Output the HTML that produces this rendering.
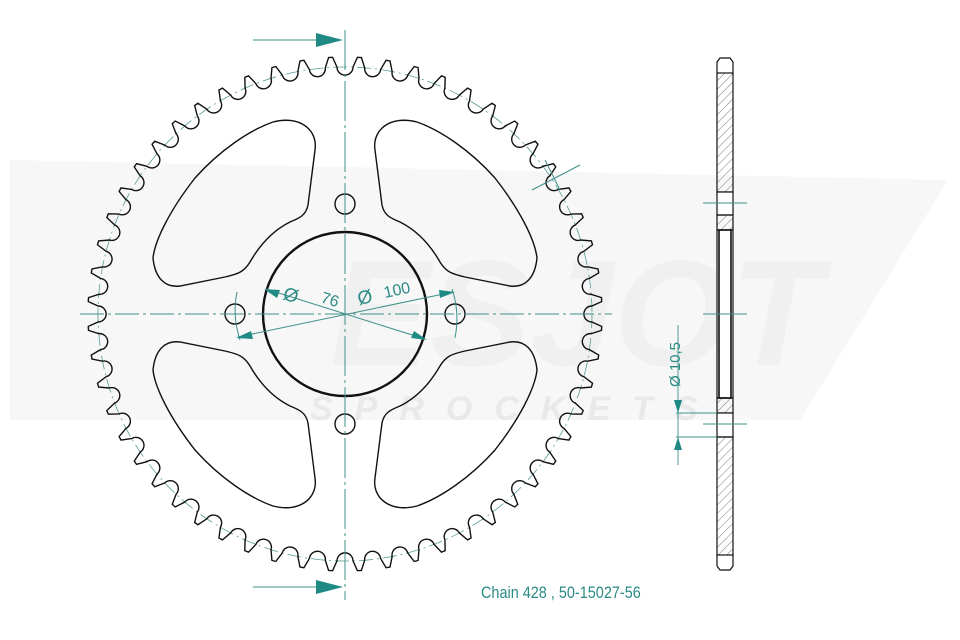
<!DOCTYPE html>
<html><head><meta charset="utf-8"><style>
html,body{margin:0;padding:0;background:#fff;width:960px;height:640px;overflow:hidden}
svg{display:block}
text{font-family:"Liberation Sans",sans-serif}
</style></head><body>
<svg width="960" height="640" viewBox="0 0 960 640" xmlns="http://www.w3.org/2000/svg">
<polygon points="10,160 948,180 800,420 10,420" fill="#f7f7f7"/>
<text x="330" y="365" font-size="150" font-weight="bold" fill="#f0f0f0" font-style="italic">ESJOT</text>
<text x="310" y="420" font-size="34" font-weight="bold" fill="#e9e9e9" font-style="italic" letter-spacing="22">SPROCKETS</text>

<circle cx="345" cy="314" r="247" fill="none" stroke="#5a9c98" stroke-width="0.8" stroke-dasharray="14 4 2 4"/>
<path id="teeth" fill="none" stroke="#111" stroke-width="1.4"/>

<g fill="none" stroke="#111" stroke-width="1.4">
<path id="win" d="M273,122 C300,115 318,130 315,150 L308,205 C306,215 300,218 290,222 C270,232 258,248 250,262 C244,272 238,274 225,277 L180,286 C165,288 155,278 153,258 C155,240 170,210 195,178 C220,150 250,130 273,122 Z"/>
<use href="#win" transform="translate(690,0) scale(-1,1)"/>
<use href="#win" transform="translate(0,628) scale(1,-1)"/>
<use href="#win" transform="translate(690,628) scale(-1,-1)"/>
<circle cx="345" cy="204" r="10"/><circle cx="345" cy="424" r="10"/>
<circle cx="235" cy="314" r="10"/><circle cx="455" cy="314" r="10"/>
<circle cx="345" cy="314" r="82" stroke-width="2.4"/>
</g>

<g stroke="#3f8f8a" stroke-width="1" fill="none">
<line x1="80" y1="314" x2="612" y2="314" stroke-dasharray="24 4 3 4"/>
<line x1="345" y1="30" x2="345" y2="600" stroke-dasharray="40 4 3 4"/>
<line x1="253" y1="40" x2="318" y2="40"/>
<line x1="253" y1="587" x2="318" y2="587"/>
<line x1="266" y1="289" x2="425" y2="339"/>
<line x1="238" y1="337" x2="453" y2="292"/>
<path d="M237,292 Q232,315 240,340"/>
<path d="M452,289 Q460,312 455,338"/>
<line x1="532" y1="190" x2="580" y2="165"/>
<line x1="545" y1="160" x2="560" y2="190"/>
</g>
<g fill="#1f8a84">
<polygon points="343,40 316,33 316,47"/>
<polygon points="343,587 316,580 316,594"/>
<polygon points="264,289 280,290 277,298" />
<polygon points="427,340 411,338 414,331"/>
<polygon points="236,338 251,331 253,339"/>
<polygon points="455,292 440,298 439,290"/>
</g>
<g fill="#2a8a85" font-size="19">
<text transform="translate(282,299) rotate(17)">Ø</text>
<text transform="translate(320,302) rotate(17)" font-size="16">76</text>
<text transform="translate(359,305) rotate(-12)">Ø</text>
<text transform="translate(385,298) rotate(-12)" font-size="16">100</text>
<text transform="translate(680,387) rotate(-90)" font-size="15">Ø 10,5</text>
<text x="481" y="598" font-size="17" transform="scale(0.85,1)" style="transform-origin:481px 598px">Chain 428 , 50-15027-56</text>
</g>

<defs><pattern id="h" width="6" height="6" patternUnits="userSpaceOnUse" patternTransform="rotate(45)"><line x1="0" y1="0" x2="0" y2="6" stroke="#555" stroke-width="0.8"/></pattern></defs>
<g stroke="#111" stroke-width="1.2">
<path d="M717,73 L717,62 L720,58 L730,58 L733,62 L733,73" fill="none"/>
<rect x="717" y="73" width="16" height="119" fill="url(#h)"/>
<rect x="717" y="192" width="16" height="23" fill="#fff"/>
<rect x="717" y="215" width="16" height="15" fill="url(#h)"/>
<rect x="717" y="230" width="16" height="168" fill="#fff"/>
<rect x="719" y="230" width="12" height="168" fill="none" stroke-width="1.6"/>
<rect x="717" y="398" width="16" height="15" fill="url(#h)"/>
<rect x="717" y="413" width="16" height="24" fill="#fff"/>
<rect x="717" y="437" width="16" height="118" fill="url(#h)"/>
<path d="M717,555 L717,566 L720,570 L730,570 L733,566 L733,555" fill="none"/>
</g>
<g stroke="#3f8f8a" stroke-width="0.9">
<line x1="703" y1="203" x2="747" y2="203"/>
<line x1="703" y1="314" x2="747" y2="314"/>
<line x1="703" y1="424" x2="747" y2="424"/>
<line x1="676" y1="413" x2="717" y2="413"/>
<line x1="676" y1="437" x2="717" y2="437"/>
<line x1="678" y1="325" x2="678" y2="465"/>
</g>
<g fill="#1f8a84">
<polygon points="678,413 674,400 682,400"/>
<polygon points="678,437 674,450 682,450"/>
</g>
</svg>
<script>
(function(){
var cx=345,cy=314,N=56,Rt=257,Rb=247,rr=8,d="";
var P=2*Math.PI/N;
function pt(r,a){return (cx+r*Math.sin(a)).toFixed(2)+","+(cy-r*Math.cos(a)).toFixed(2);}
for(var i=0;i<N;i++){
 var a=P/2+i*P;
 var dt=2/Rt, db=(P/2*Rb-rr)/Rb;
 if(i==0) d+="M"+pt(Rb,a-db);
 d+=" L"+pt(Rt,a-dt)+" L"+pt(Rt,a+dt)+" L"+pt(Rb,a+db);
 var na=a+P;
 d+=" A"+rr+","+rr+" 0 0 0 "+pt(Rb,na-db);
}
document.getElementById("teeth").setAttribute("d",d+"Z");
})();
</script>
</body></html>
